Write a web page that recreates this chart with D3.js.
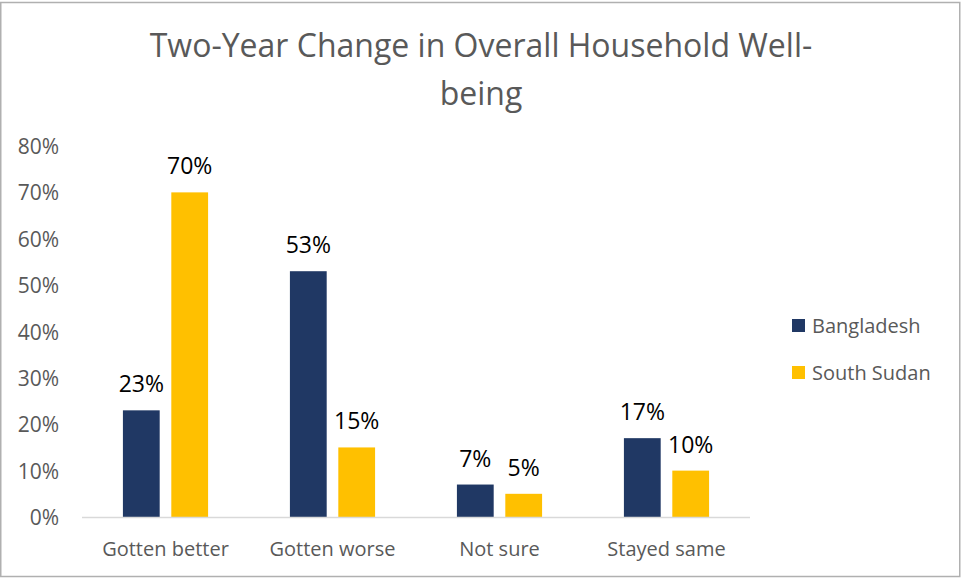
<!DOCTYPE html>
<html>
<head>
<meta charset="utf-8">
<script src="https://cdn.jsdelivr.net/npm/d3@7"></script>
<style>
  html, body { margin: 0; padding: 0; background: #fff; }
  svg { display: block; }
  text { font-family: "Open Sans", "Noto Sans", sans-serif; }
</style>
</head>
<body>
<svg id="chart" width="961" height="578"></svg>
<script>
// Survey responses, percent of households
const categories = ["Gotten better", "Gotten worse", "Not sure", "Stayed same"];
const seriesNames = ["Bangladesh", "South Sudan"];
const bangladesh = [23, 53, 7, 17];
const southSudan = [70, 15, 5, 10];
const yTicks = [0, 10, 20, 30, 40, 50, 60, 70, 80];
const titleLines = ["Two-Year Change in Overall Household Well-", "being"];

const colors = { "Bangladesh": "#203864", "South Sudan": "#FFC000" };

const svg = d3.select("#chart");
const W = 961, H = 578;

// chart frame
svg.append("rect")
  .attr("x", 0.75).attr("y", 2.5)
  .attr("width", W - 2).attr("height", H - 4)
  .attr("fill", "#fff")
  .attr("stroke", "#b0b0b0").attr("stroke-width", 1.5);

const plot = { left: 82, right: 750, top: 146, bottom: 517 };

const x0 = d3.scaleBand()
  .domain(categories)
  .range([plot.left, plot.right])
  .paddingInner(0.49)
  .paddingOuter(0.245);

const x1 = d3.scaleBand()
  .domain(seriesNames)
  .range([0, x0.bandwidth()])
  .paddingInner(0.24);

const y = d3.scaleLinear().domain([0, 80]).range([plot.bottom, plot.top]);

// title
svg.append("g").selectAll("text")
  .data(titleLines)
  .join("text")
  .attr("x", 481)
  .attr("y", (d, i) => 57 + i * 48)
  .attr("text-anchor", "middle")
  .attr("font-size", 32)
  .attr("fill", "#595959")
  .text(d => d);

// y axis labels (no axis line)
const yAxis = d3.axisLeft(y)
  .tickValues(yTicks)
  .tickFormat(d => d + "%")
  .tickSize(0)
  .tickPadding(0);

const yg = svg.append("g")
  .attr("transform", `translate(59,0)`)
  .call(yAxis);
yg.select(".domain").remove();
yg.selectAll("text")
  .attr("font-size", 21)
  .attr("fill", "#595959")
  .attr("font-family", "Open Sans, Noto Sans, sans-serif")
  .attr("dy", "0.36em");

// bars
const rows = categories.map((c, i) => ({
  category: c,
  values: [
    { series: "Bangladesh", value: bangladesh[i] },
    { series: "South Sudan", value: southSudan[i] }
  ]
}));

const groups = svg.append("g").selectAll("g")
  .data(rows)
  .join("g")
  .attr("transform", d => `translate(${x0(d.category)},0)`);

groups.selectAll("rect")
  .data(d => d.values)
  .join("rect")
  .attr("x", d => x1(d.series))
  .attr("y", d => y(d.value))
  .attr("width", x1.bandwidth())
  .attr("height", d => y(0) - y(d.value))
  .attr("fill", d => colors[d.series]);

// value labels
groups.selectAll("text")
  .data(d => d.values)
  .join("text")
  .attr("x", d => x1(d.series) + x1.bandwidth() / 2)
  .attr("y", d => y(d.value) - 18)
  .attr("text-anchor", "middle")
  .attr("font-size", 23)
  .attr("fill", "#000")
  .text(d => d.value + "%");

// baseline
svg.append("line")
  .attr("x1", plot.left).attr("x2", plot.right)
  .attr("y1", y(0) + 0.5).attr("y2", y(0) + 0.5)
  .attr("stroke", "#d9d9d9").attr("stroke-width", 1.5);

// category axis
const xAxis = d3.axisBottom(x0).tickSize(0).tickPadding(0);
const xg = svg.append("g")
  .attr("transform", `translate(0,${y(0)})`)
  .call(xAxis);
xg.select(".domain").remove();
xg.selectAll("text")
  .attr("font-size", 20)
  .attr("fill", "#595959")
  .attr("font-family", "Open Sans, Noto Sans, sans-serif")
  .attr("dy", null)
  .attr("y", 39);

// legend
const legend = svg.append("g").selectAll("g")
  .data(seriesNames)
  .join("g")
  .attr("transform", (d, i) => `translate(792,${319 + i * 47})`);

legend.append("rect")
  .attr("width", 13).attr("height", 13)
  .attr("fill", d => colors[d]);

legend.append("text")
  .attr("x", 20).attr("y", 14)
  .attr("font-size", 20)
  .attr("fill", "#595959")
  .text(d => d);
</script>
</body>
</html>
